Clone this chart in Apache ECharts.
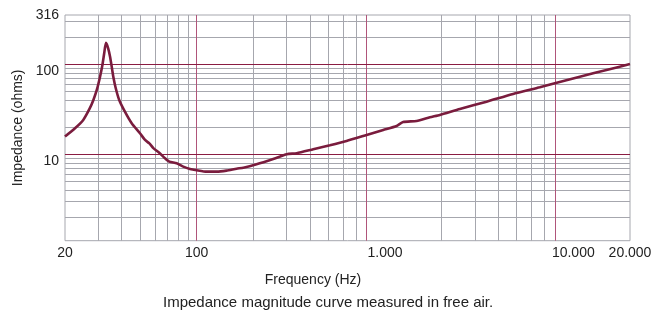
<!DOCTYPE html>
<html><head><meta charset="utf-8">
<script src="https://cdn.jsdelivr.net/npm/echarts@6/dist/echarts.min.js"></script>
<style>html,body{margin:0;padding:0;background:#fff}#c{width:672px;height:313px}</style>
</head><body><div id="c"></div>
<script>
// Frequency (Hz) and impedance magnitude (ohms)
const freqHz = [20, 22.6, 25.0, 27.1, 28.3, 29.5, 30.7, 31.6, 32.3, 33.0, 33.9, 34.7, 35.4, 36.1, 37.2, 38.8, 41.6, 45.2, 50.0, 53.2, 56.1, 58.9, 63.3, 67.9, 71.6, 78.3, 84.9, 92.2, 100, 113, 128, 144, 163, 177, 208, 255, 301, 340, 416, 510, 625, 799, 979, 1153, 1249, 1472, 1732, 1956, 2498, 3462, 4792, 6640, 7977, 10828, 15000, 20000];
const impedanceOhm = [15.7, 19.4, 24.0, 32.4, 40.0, 51.6, 72.5, 97.7, 131.7, 172, 149.6, 120.8, 93.6, 72.5, 53.9, 40.0, 29.7, 22.1, 17.1, 14.4, 13.2, 11.7, 10.4, 9.03, 8.28, 7.95, 7.29, 6.87, 6.65, 6.41, 6.41, 6.58, 6.92, 7.10, 7.75, 8.87, 10.0, 10.26, 11.36, 12.58, 14.04, 16.37, 18.6, 20.6, 22.8, 23.4, 25.7, 27.3, 31.8, 38.3, 46.6, 55.3, 61.3, 72.5, 86.0, 100];
const xTickLabels = [20, 100, 1000, 10000, 20000];
const yTickLabels = [10, 100];
const yTopLabel = '316';
const xMinorGrid = [30, 40, 50, 60, 70, 80, 90, 200, 300, 400, 500, 600, 700, 2000, 3000, 4000, 5000, 6000, 7000];
const xMajorGrid = [100, 800, 8000];
const yMinorGrid = [2, 3, 4, 5, 6, 7, 8, 9, 20, 30, 40, 50, 60, 70, 80, 90, 200, 300];
const yMajorGrid = [10, 100];
const xRange = [20, 20000];
const yRange = [1.1, 350];

const FONT = "'Liberation Sans', Arial, sans-serif";
const GRAY = '#a6a7ae';
const RED_H = '#8a1c42';
const RED_V = '#b0557a';
const CURVE = '#7a1c3d';
const TXT = '#222222';

const pairs = freqHz.map((f, i) => [f, impedanceOhm[i]]);
const fmtX = v => {
  const r = Math.round(v);
  return xTickLabels.indexOf(r) >= 0 ? String(r).replace(/\B(?=(\d{3})+(?!\d))/g, '.') : '';
};
const gridSeries = (z, color, items) => ({
  type: 'line', z: z, silent: true, data: pairs, showSymbol: false,
  lineStyle: {opacity: 0},
  markLine: {
    silent: true, symbol: ['none', 'none'], label: {show: false}, animation: false,
    lineStyle: {color: color, width: 1, type: 'solid', opacity: 1},
    emphasis: {disabled: true},
    data: items
  }
});

const chart = echarts.init(document.getElementById('c'), null, {renderer: 'canvas'});
chart.setOption({
  animation: false,
  backgroundColor: '#ffffff',
  textStyle: {fontFamily: FONT},
  title: [
    {text: 'Frequency (Hz)', left: 313, top: 273, textAlign: 'center', padding: 0,
     textStyle: {fontFamily: FONT, fontSize: 14, fontWeight: 'normal', color: TXT}},
    {text: 'Impedance magnitude curve measured in free air.', left: 163, top: 295, textAlign: 'left', padding: 0,
     textStyle: {fontFamily: FONT, fontSize: 15, fontWeight: 'normal', color: TXT}}
  ],
  grid: {left: 65, right: 42, top: 15, bottom: 72.3, show: true, borderColor: GRAY, borderWidth: 1, backgroundColor: 'transparent'},
  xAxis: {
    type: 'log', logBase: 10, min: xRange[0], max: xRange[1],
    axisLine: {show: false}, axisTick: {show: false}, splitLine: {show: false},
    axisLabel: {show: true, showMinLabel: true, showMaxLabel: true, margin: 5, fontSize: 14, color: TXT, fontFamily: FONT, formatter: fmtX}
  },
  yAxis: [{
    type: 'log', logBase: 10, min: yRange[0], max: yRange[1], position: 'left',
    name: 'Impedance (ohms)', nameLocation: 'middle', nameGap: 36,
    nameTextStyle: {fontSize: 14, color: TXT, fontFamily: FONT},
    axisLine: {show: false}, axisTick: {show: false}, splitLine: {show: false},
    axisLabel: {show: true, margin: 6, fontSize: 14, color: TXT, fontFamily: FONT, verticalAlign: 'top',
      formatter: v => { const r = Math.round(v); return yTickLabels.indexOf(r) >= 0 ? String(r) : ''; }}
  }, {
    type: 'log', logBase: 10, min: yRange[0], max: yRange[1], position: 'left', offset: 0,
    axisLine: {show: false}, axisTick: {show: false}, splitLine: {show: false},
    axisLabel: {show: true, showMaxLabel: true, margin: 6, fontSize: 14, color: TXT, fontFamily: FONT, verticalAlign: 'middle', padding: [6, 0, 0, 0],
      formatter: v => (v > 300 ? yTopLabel : '')}
  }],
  series: [
    gridSeries(1, GRAY, xMinorGrid.map(v => ({xAxis: v})).concat(yMinorGrid.map(v => ({yAxis: v})))),
    gridSeries(2, RED_V, xMajorGrid.map(v => ({xAxis: v}))),
    gridSeries(3, RED_H, yMajorGrid.map(v => ({yAxis: v}))),
    {
      name: 'Impedance', type: 'line', z: 5, data: pairs, showSymbol: false, smooth: 0.2,
      lineStyle: {color: CURVE, width: 2.6}
    }
  ]
});
</script></body></html>
